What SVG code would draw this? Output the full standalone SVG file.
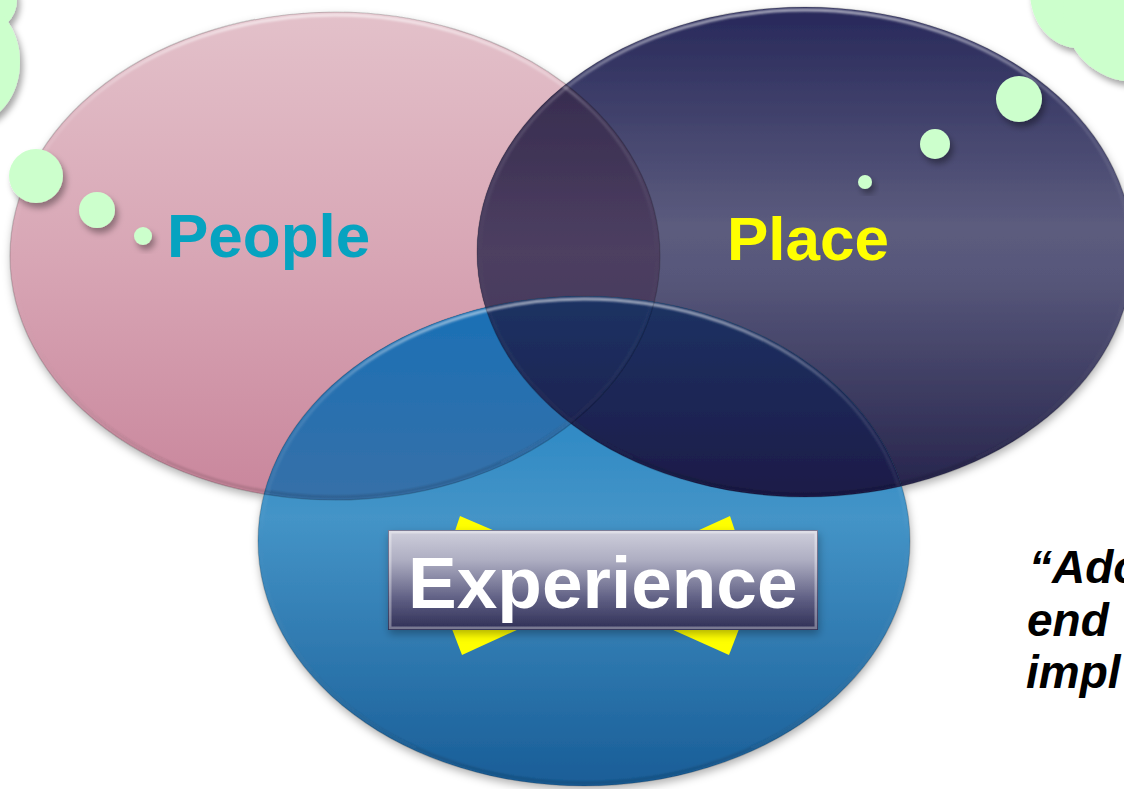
<svg xmlns="http://www.w3.org/2000/svg" width="1124" height="789" viewBox="0 0 1124 789">
<defs>
<style>
.bub{fill:#ccffcc;filter:url(#bshadow)}
.lbl{font-family:"Liberation Sans",Arial,sans-serif;font-weight:bold}
.quote{font-family:"Liberation Sans",Arial,sans-serif;font-weight:bold;font-style:italic;font-size:46px;fill:#000}
.rim{fill:none;stroke:url(#rimG);stroke-width:3}
.edge{fill:none;stroke:#000;stroke-opacity:0.18;stroke-width:1.2}
.bow{fill:#ffff00}
</style>
<filter id="bshadow" x="-50%" y="-50%" width="200%" height="200%">
<feDropShadow dx="3" dy="5" stdDeviation="3" flood-color="#000" flood-opacity="0.35"/>
</filter>
<filter id="eshadow" x="-10%" y="-10%" width="120%" height="125%">
<feDropShadow dx="1" dy="4" stdDeviation="4" flood-color="#000" flood-opacity="0.3"/>
</filter>
<filter id="soft" x="-5%" y="-5%" width="110%" height="110%">
<feGaussianBlur stdDeviation="1.2"/>
</filter>
<linearGradient id="gPink" gradientUnits="userSpaceOnUse" x1="0" y1="12" x2="0" y2="500">
<stop offset="0" stop-color="#e3c1ca"/><stop offset="0.5" stop-color="#d8a6b5"/><stop offset="1" stop-color="#c9869c"/>
</linearGradient>
<linearGradient id="gNavy" gradientUnits="userSpaceOnUse" x1="0" y1="7" x2="0" y2="497">
<stop offset="0" stop-color="#27285a"/><stop offset="0.45" stop-color="#5c5c7e"/><stop offset="0.55" stop-color="#57577a"/><stop offset="1" stop-color="#25234b"/>
</linearGradient>
<linearGradient id="gBlue" gradientUnits="userSpaceOnUse" x1="0" y1="297" x2="0" y2="786">
<stop offset="0" stop-color="#137cc2"/><stop offset="0.45" stop-color="#4494c7"/><stop offset="1" stop-color="#195d97"/>
</linearGradient>
<linearGradient id="gPN" gradientUnits="userSpaceOnUse" x1="0" y1="7" x2="0" y2="497">
<stop offset="0" stop-color="#2d2447"/><stop offset="0.5" stop-color="#4d3f61"/><stop offset="1" stop-color="#382c50"/>
</linearGradient>
<linearGradient id="gPB" gradientUnits="userSpaceOnUse" x1="0" y1="297" x2="0" y2="500">
<stop offset="0" stop-color="#1a70b6"/><stop offset="1" stop-color="#3670a8"/>
</linearGradient>
<linearGradient id="gNB" gradientUnits="userSpaceOnUse" x1="0" y1="297" x2="0" y2="497">
<stop offset="0" stop-color="#1b3263"/><stop offset="1" stop-color="#1c1b48"/>
</linearGradient>
<linearGradient id="rimG" x1="0" y1="0" x2="0" y2="1">
<stop offset="0" stop-color="#fff" stop-opacity="0.6"/><stop offset="0.2" stop-color="#fff" stop-opacity="0.15"/><stop offset="0.5" stop-color="#fff" stop-opacity="0"/><stop offset="1" stop-color="#000" stop-opacity="0.15"/>
</linearGradient>
<linearGradient id="gBox" x1="0" y1="0" x2="0" y2="1">
<stop offset="0" stop-color="#cfcfdc"/><stop offset="0.3" stop-color="#aeaec2"/><stop offset="0.7" stop-color="#5d5d82"/><stop offset="1" stop-color="#2e2e55"/>
</linearGradient>
<clipPath id="cNavy"><ellipse cx="805" cy="252" rx="328" ry="245"/></clipPath>
<clipPath id="cBlue"><ellipse cx="584" cy="541" rx="326" ry="245"/></clipPath>
</defs>

<rect x="0" y="0" width="1124" height="789" fill="#ffffff"/>

<g id="clouds">
<g filter="url(#bshadow)" fill="#ccffcc">
<circle cx="-15" cy="0" r="32"/>
<ellipse cx="-30" cy="62" rx="50" ry="62"/>
</g>
<g filter="url(#bshadow)" fill="#ccffcc">
<ellipse cx="1078" cy="-8" rx="48" ry="56"/>
<circle cx="1135" cy="10" r="72"/>
</g>
</g>

<g id="venn" filter="url(#eshadow)">
<g id="node-people-shape">
<ellipse cx="335" cy="256" rx="325" ry="244" fill="url(#gPink)"/>
</g>
<g id="node-place-shape">
<ellipse cx="805" cy="252" rx="328" ry="245" fill="url(#gNavy)"/>
</g>
<g id="node-experience-shape">
<ellipse cx="584" cy="541" rx="326" ry="245" fill="url(#gBlue)"/>
</g>
<g id="overlaps">
<ellipse cx="335" cy="256" rx="325" ry="244" fill="url(#gPN)" clip-path="url(#cNavy)"/>
<ellipse cx="335" cy="256" rx="325" ry="244" fill="url(#gPB)" clip-path="url(#cBlue)"/>
<ellipse cx="805" cy="252" rx="328" ry="245" fill="url(#gNB)" clip-path="url(#cBlue)"/>
</g>
<g id="rims" filter="url(#soft)">
<ellipse class="rim" cx="335" cy="256" rx="322" ry="241"/>
<ellipse class="rim" cx="805" cy="252" rx="325" ry="242"/>
<ellipse class="rim" cx="584" cy="541" rx="323" ry="242"/>
</g>
<g id="edges">
<ellipse class="edge" cx="335" cy="256" rx="325" ry="244"/>
<ellipse class="edge" cx="805" cy="252" rx="328" ry="245"/>
<ellipse class="edge" cx="584" cy="541" rx="326" ry="245"/>
</g>
</g>

<g id="bubbles">
<circle class="bub" cx="36" cy="176" r="27"/>
<circle class="bub" cx="97" cy="210" r="18"/>
<circle class="bub" cx="143" cy="236" r="9"/>
<circle class="bub" cx="1019" cy="99" r="23"/>
<circle class="bub" cx="935" cy="144" r="15"/>
<circle class="bub" cx="865" cy="182" r="7"/>
</g>

<g id="node-people">
<text class="lbl" x="167" y="257" font-size="62" fill="#06a3c0">People</text>
</g>
<g id="node-place">
<text class="lbl" x="727" y="260" font-size="62" fill="#ffff00">Place</text>
</g>

<g id="node-experience">
<polygon class="bow" points="460,516 495,531 455,531"/>
<polygon class="bow" points="730,516 735,531 697,531"/>
<polygon class="bow" points="452,629 462,655 519,629"/>
<polygon class="bow" points="671,629 729,655 739,629"/>
<rect x="388" y="530" width="430" height="100" fill="url(#gBox)" filter="url(#eshadow)"/>
<rect x="390" y="532" width="426" height="96" fill="none" stroke="#ffffff" stroke-opacity="0.35" stroke-width="3"/>
<rect x="388.5" y="530.5" width="429" height="99" fill="none" stroke="#22224a" stroke-opacity="0.5" stroke-width="1"/>
<text class="lbl" x="408" y="608" font-size="73" fill="#ffffff">Experience</text>
</g>

<g id="quote">
<text class="quote" x="1029" y="583">“Ado</text>
<text class="quote" x="1027" y="636">end</text>
<text class="quote" x="1026" y="688">impl</text>
</g>
</svg>
